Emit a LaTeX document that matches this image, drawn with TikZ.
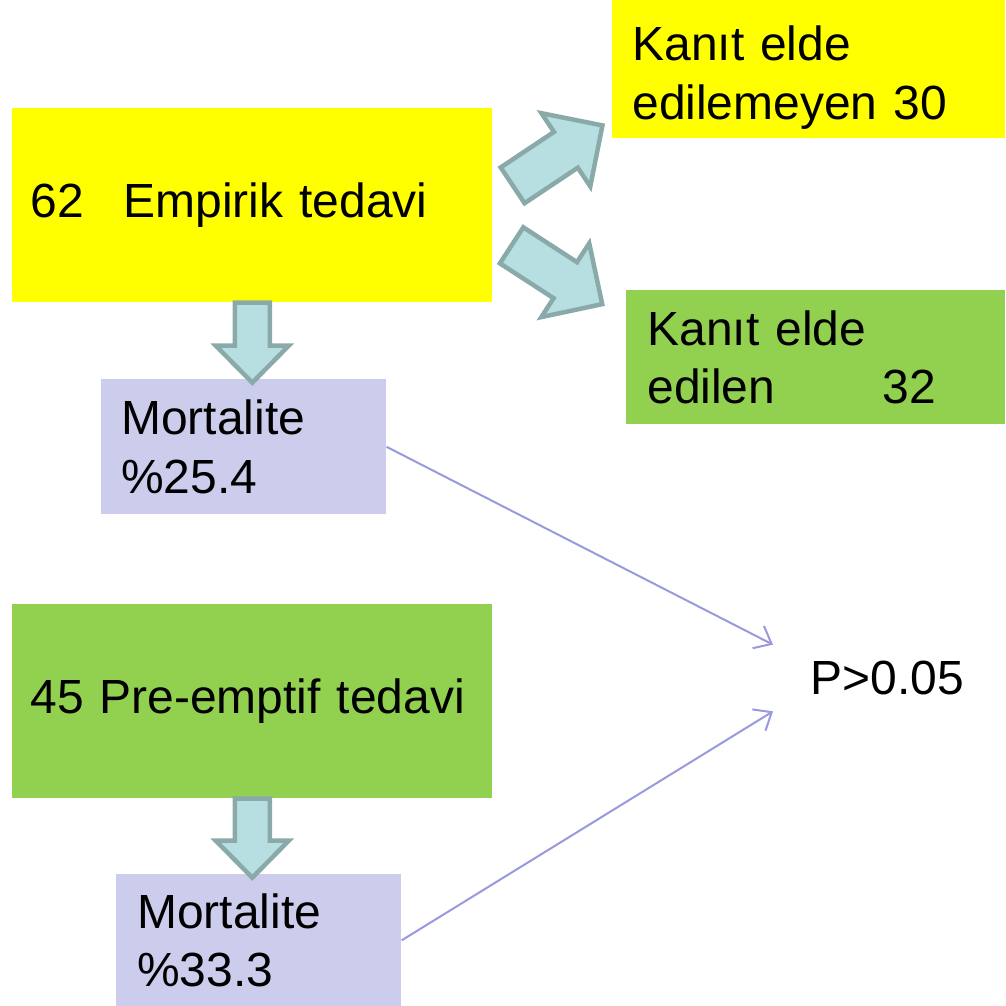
\documentclass[tikz,border=0pt]{standalone}
\usepackage{fontspec}
\setmainfont{Liberation Sans}
\usetikzlibrary{arrows.meta}
\definecolor{boxyellow}{RGB}{255,255,0}
\definecolor{boxgreen}{RGB}{146,208,80}
\definecolor{boxlilac}{RGB}{204,204,236}
\definecolor{arrfill}{RGB}{183,222,224}
\definecolor{arrline}{RGB}{138,170,170}
\definecolor{linkline}{RGB}{153,153,221}
\newcommand{\boxfont}{\fontsize{27.3}{33.5}\selectfont}
\newcommand{\arrw}{0.09cm}

\begin{document}
\begin{tikzpicture}[x=0.02cm, y=0.02cm]
            \tikzset{databox/.style = {rectangle, anchor=north west, align=left, inner ysep=0pt, font=\boxfont},
                     barrow/.style = {draw=arrline, fill=arrfill, line width=\arrw, line join=miter},
                     link/.style = {draw=linkline, line width=0.04cm, -{Straight Barb[length=0.3cm,width=0.5cm]}},
                     pics/blockarrow/.style n args = {4}{code = {
                         \draw[barrow] (0,-#2) -- (#1-#4,-#2) -- (#1-#4,-#3) -- (#1,0)
                             -- (#1-#4,#3) -- (#1-#4,#2) -- (0,#2) -- cycle;}}}
            \useasboundingbox (0,0) rectangle (1005,-1006);
            \node[databox, fill=boxyellow, minimum width=9.6cm, minimum height=3.88cm,
                  inner xsep=0.36cm, text width=8.88cm] (emp) at (12,-108) {62\hspace{0.8cm}Empirik tedavi};
            \node[databox, fill=boxyellow, minimum width=7.86cm, minimum height=2.76cm,
                  inner xsep=0.4cm, text width=7.06cm] (yok) at (612,0) {\rule{0pt}{1.02cm}Kanıt elde\\edilemeyen 30};
            \node[databox, fill=boxgreen, minimum width=7.58cm, minimum height=2.68cm,
                  inner xsep=0.42cm, text width=6.74cm] (var) at (626,-290) {Kanıt elde\\edilen\hspace{2.15cm}32};
            \node[databox, fill=boxlilac, minimum width=5.7cm, minimum height=2.7cm,
                  inner xsep=0.4cm, text width=4.9cm] (mone) at (101,-379) {Mortalite\\\%25.4};
            \node[databox, fill=boxgreen, minimum width=9.6cm, minimum height=3.88cm,
                  inner xsep=0.36cm, text width=8.88cm] (pre) at (12,-604) {45 Pre-emptif~tedavi};
            \node[databox, fill=boxlilac, minimum width=5.7cm, minimum height=2.64cm,
                  inner xsep=0.42cm, text width=4.86cm] (mtwo) at (116,-874) {Mortalite\\\%33.3};
            \node[anchor=west, inner xsep=0.74cm, inner ysep=0pt, minimum height=1.32cm,
                  font=\boxfont] (pval) at (773,-678) {P>0.05};

            \pic[rotate=-90] at (emp.south) {blockarrow={80}{17.5}{36.5}{37}};
            \pic[rotate=-90] at (pre.south) {blockarrow={79}{17.5}{36.5}{37}};
            \pic[rotate=33.7] at ([shift={(20,20)}]emp.east) {blockarrow={108}{21.5}{44}{44}};
            \pic[rotate=-33] at ([shift={(19,-40)}]emp.east) {blockarrow={108}{21.5}{44}{44}};

            \draw[link] (mone.east) -- (pval.north west);
            \draw[link] (mtwo.east) -- (pval.south west);
        \end{tikzpicture}
\end{document}
